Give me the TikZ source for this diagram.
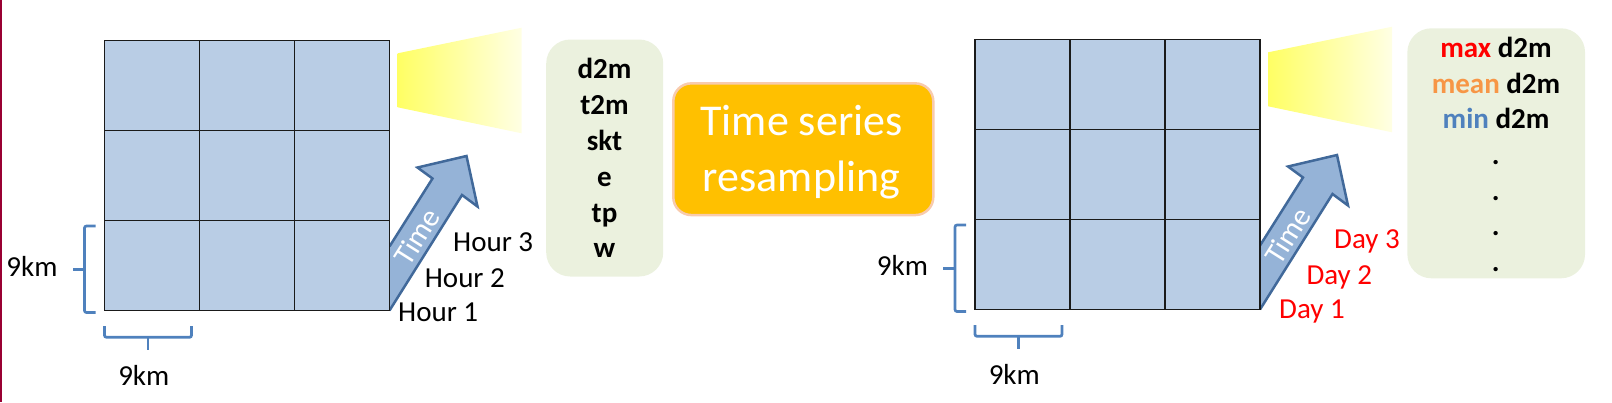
\documentclass[tikz,border=0pt]{standalone}
\usepackage{fontspec}
\setmainfont{Carlito}
\definecolor{gridfill}{HTML}{B9CDE5}
\definecolor{gridline}{HTML}{1A1A1A}
\definecolor{arrowfill}{HTML}{95B3D7}
\definecolor{arrowline}{HTML}{41699A}
\definecolor{braceblue}{HTML}{4F81BD}
\definecolor{boxgreen}{HTML}{EBF1DE}
\definecolor{boxorange}{HTML}{FFC000}
\definecolor{boxpeach}{HTML}{F8CBAD}
\definecolor{maxred}{HTML}{FF0000}
\definecolor{meanorange}{HTML}{F79646}
\definecolor{minblue}{HTML}{4F81BD}
\definecolor{edgeline}{HTML}{990033}
\definecolor{beamstart}{RGB}{255,255,100}
\definecolor{beamend}{RGB}{255,255,228}
\begin{document}
\begin{tikzpicture}[x=1pt,y=-1pt,
  lbl/.style={inner sep=0pt, font=\fontsize{29}{35}\selectfont},
  boldlbl/.style={inner sep=0pt, font=\fontsize{29}{35}\selectfont\bfseries},
  daylbl/.style={lbl, text=maxred},
  gridcell/.style={fill=gridfill, draw=gridline, line width=1.6pt},
  arrowbody/.style={fill=arrowfill},
  arrowedge/.style={draw=arrowline, line width=2.5pt, line join=miter},
  bracket/.style={draw=braceblue, line width=2.7pt, rounded corners=2pt},
  greenbox/.style={fill=boxgreen, rounded corners=24pt, inner sep=0pt},
  orangebox/.style={fill=boxorange, draw=boxpeach, line width=2.5pt, rounded corners=18pt, inner sep=0pt},
  timetext/.style={inner sep=0pt, text=white, font=\fontsize{30}{36}\selectfont, rotate=57.7}]
\useasboundingbox (0,0) rectangle (1612,402);
\fill[edgeline] (0,0) rectangle (1.5,402);

\foreach \dx/\dy/\id in {0/0/L, 870.5/-1/R}{
  \begin{scope}[shift={(\dx,\dy)}]
    % light beam
    \shade[left color=beamstart, right color=beamend]
      (397.7,53.3) -- (521.7,27.7) -- (521.7,133.3) -- (397.7,107.3) -- cycle;
    % time arrow
    \coordinate (A\id) at (389.5,246.5);
    \coordinate (B\id) at (432.5,178.5);
    \coordinate (C\id) at (417.5,167.5);
    \coordinate (D\id) at (466.5,156);
    \coordinate (E\id) at (477.5,206.5);
    \coordinate (F\id) at (462,195);
    \coordinate (G\id) at (389.5,310.5);
    \fill[arrowbody] (A\id) -- (B\id) -- (C\id) -- (D\id) -- (E\id) -- (F\id) -- (G\id) -- cycle;
    \draw[arrowedge] (G\id) -- (F\id) -- (E\id) -- (D\id) -- (C\id) -- (B\id) -- (A\id);
    \node[timetext] (time\id) at (417,237) {Time};
    % grid
    \foreach \i in {0,1,2}{
      \foreach \j in {0,1,2}{
        \draw[gridcell] (104.5+95*\i,40.5+90*\j) rectangle ++(95,90);
      }
    }
    % brackets
    \draw[bracket] (95.5,226) -- (84.5,226) -- (84.5,312.5) -- (95.5,312.5);
    \draw[bracket] (84.5,269.5) -- (72.5,269.5);
    \draw[bracket] (104.5,326) -- (104.5,337.3) -- (191.5,337.3) -- (191.5,326);
    \draw[bracket] (148,337.3) -- (148,350);
    \node[lbl, anchor=base] (kmside\id) at (32,276) {9km};
    \node[lbl, anchor=base] (kmbottom\id) at (143.8,385) {9km};
  \end{scope}
}

% hour labels
\node[lbl, anchor=base west] (hour3) at (453,251.7) {Hour 3};
\node[lbl, anchor=base west] (hour2) at (424.7,287.3) {Hour 2};
\node[lbl, anchor=base west] (hour1) at (398,321.7) {Hour 1};

% day labels
\node[daylbl, anchor=base west] (day3) at (1334,248.3) {Day 3};
\node[daylbl, anchor=base west] (day2) at (1306.3,284.3) {Day 2};
\node[daylbl, anchor=base west] (day1) at (1279,318.3) {Day 1};

% variable box
\node[greenbox, minimum width=117pt, minimum height=237pt] (vars) at (604.7,158) {};
\node[boldlbl, anchor=base] (v1) at (604.5,78.3) {d2m};
\node[boldlbl, anchor=base] (v2) at (604.5,114.5) {t2m};
\node[boldlbl, anchor=base] (v3) at (604.5,150.3) {skt};
\node[boldlbl, anchor=base] (v4) at (604.5,186.2) {e};
\node[boldlbl, anchor=base] (v5) at (604.5,222) {tp};
\node[boldlbl, anchor=base] (v6) at (604.5,257.9) {w};

% resampling box
\node[orangebox, minimum width=260pt, minimum height=131.7pt] (resamp) at (803.3,149.2) {};
\node[inner sep=0pt, text=white, font=\fontsize{44}{56}\selectfont, anchor=base] (rs1) at (801.5,135) {Time series};
\node[inner sep=0pt, text=white, font=\fontsize{44}{56}\selectfont, anchor=base] (rs2) at (801.5,191.7) {resampling};

% statistics box
\node[greenbox, minimum width=177.7pt, minimum height=250pt] (stats) at (1496.2,153.3) {};
\node[boldlbl, anchor=base] (s1) at (1496,57.3) {{\color{maxred}max} d2m};
\node[boldlbl, anchor=base] (s2) at (1496,93) {{\color{meanorange}mean} d2m};
\node[boldlbl, anchor=base] (s3) at (1496,128.7) {{\color{minblue}min} d2m};
\node[boldlbl, anchor=base] (s4) at (1495.7,164.4) {.};
\node[boldlbl, anchor=base] (s5) at (1495.7,200.1) {.};
\node[boldlbl, anchor=base] (s6) at (1495.7,235.8) {.};
\node[boldlbl, anchor=base] (s7) at (1495.7,271.5) {.};
\end{tikzpicture}
\end{document}
